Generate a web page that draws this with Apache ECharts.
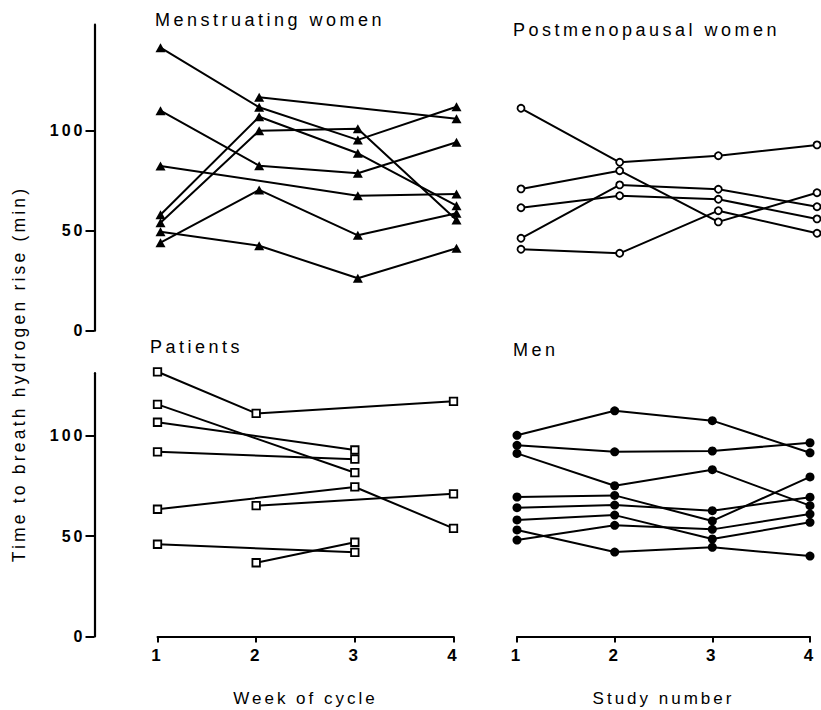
<!DOCTYPE html>
<html>
<head>
<meta charset="utf-8">
<script src="https://cdn.jsdelivr.net/npm/echarts@6/dist/echarts.min.js"></script>
<style>
  html, body { margin: 0; padding: 0; background: #fff; }
  #chart { width: 821px; height: 710px; }
  #chart svg text { letter-spacing: 3px; }
  #chart svg text[style*="18px"] { letter-spacing: 3.5px; }
  #chart svg text[style*="17.5px"] { letter-spacing: 3.2px; }
</style>
</head>
<body>
<div id="chart"></div>
<script>
// ---- data ----
const weeks = [1, 2, 3, 4];
const yTickValues = [0, 50, 100];

// Each row = one subject, values for weeks / studies 1..4 (null = not measured)
const menstruating = [
  [141.5, 111.7, 95.4, 112],
  [null, 116.7, null, 106],
  [58, 107, 88.7, 62.5],
  [54, 100, 101, 55.4],
  [110, 82.5, 78.7, 94.2],
  [82.4, null, 67.5, 68.4],
  [49.5, 42.5, 26.2, 41.2],
  [44, 70.4, 47.7, 58.7]
];
const postmenopausal = [
  [111.2, 84.2, 87.5, 92.9],
  [70.9, 80, 54.4, 69],
  [61.5, 67.5, 65.7, 55.9],
  [46.2, 72.9, 70.7, 62],
  [40.7, 38.7, 60, 48.7]
];
const patients = [
  [131.7, 111, null, 117],
  [115.5, null, 81.5, null],
  [106.6, null, 92.8, null],
  [91.9, null, 88.2, null],
  [63.3, null, 74.4, 53.8],
  [null, 65.1, null, 71],
  [45.9, null, 41.9, null],
  [null, 36.7, 46.9, null]
];
const men = [
  [100.1, 112.3, 107.4, 91.4],
  [95.1, 91.9, 92.3, 96.4],
  [91.1, 75, 83, 65.1],
  [69.4, 70.2, 57.5, 79.4],
  [64.1, 65.4, 62.6, 69.3],
  [58, 60.4, 48.5, 56.8],
  [53, 42, 44.4, 40],
  [48, 55.3, 53.3, 60.9]
];

const panelTitles = ['Menstruating women', 'Postmenopausal women', 'Patients', 'Men'];
const xNames = ['Week of cycle', 'Study number'];
const yTitle = 'Time to breath hydrogen rise (min)';

// ---- layout / style ----
const FONT = 'Liberation Sans';
const Y_AXIS_X = 94.5;
const grids = [
  { left: 160.5, top: 24.7, width: 296, height: 306 },
  { left: 521, top: 24.7, width: 296, height: 306 },
  { left: 157.5, top: 373.2, width: 296, height: 263.3 },
  { left: 517, top: 373.2, width: 293, height: 263.3 }
];
const yMax = [153, 153, 131, 131];

const symbolStyles = [
  { symbol: 'triangle', symbolSize: [10, 9], itemStyle: { color: '#000', borderWidth: 0 } },
  { symbol: 'circle', symbolSize: 7, itemStyle: { color: '#fff', borderColor: '#000', borderWidth: 1.8 } },
  { symbol: 'rect', symbolSize: 7.5, itemStyle: { color: '#fff', borderColor: '#000', borderWidth: 1.8 } },
  { symbol: 'circle', symbolSize: 9, itemStyle: { color: '#000', borderWidth: 0 } }
];

const panels = [menstruating, postmenopausal, patients, men];

const xAxes = grids.map((g, i) => {
  const bottom = i >= 2;
  return {
    gridIndex: i,
    type: 'value',
    min: 1, max: 4, interval: 1,
    show: bottom,
    name: bottom ? xNames[i - 2] : '',
    nameLocation: 'middle',
    nameGap: 53,
    nameTextStyle: { fontFamily: FONT, fontSize: 17, color: '#000' },
    axisLine: { show: true, lineStyle: { color: '#000', width: 2 } },
    axisTick: { show: true, length: 6, lineStyle: { color: '#000', width: 2 } },
    axisLabel: { show: true, margin: 10, fontFamily: FONT, fontSize: 17, fontWeight: 'bold', color: '#000' },
    splitLine: { show: false }
  };
});

const yAxes = grids.map((g, i) => {
  const left = (i % 2 === 0);
  return {
    gridIndex: i,
    type: 'value',
    min: 0, max: yMax[i],
    show: left,
    position: 'left',
    offset: g.left - Y_AXIS_X,
    axisLine: { show: true, lineStyle: { color: '#000', width: 2.2 } },
    axisTick: { show: true, length: 9, customValues: yTickValues, lineStyle: { color: '#000', width: 2 } },
    axisLabel: { show: true, margin: 9, customValues: yTickValues, fontFamily: FONT, fontSize: 16, fontWeight: 'bold', color: '#000' },
    splitLine: { show: false }
  };
});

const series = [];
panels.forEach((rows, p) => {
  rows.forEach((row) => {
    const pts = [];
    row.forEach((v, k) => { if (v !== null) pts.push([weeks[k], v]); });
    series.push(Object.assign({
      type: 'line',
      xAxisIndex: p,
      yAxisIndex: p,
      data: pts,
      clip: false,
      showAllSymbol: true,
      lineStyle: { color: '#000', width: 2 },
      emphasis: { disabled: true },
      silent: true
    }, symbolStyles[p]));
  });
});

const titlePos = [
  { left: 155, top: 11 },
  { left: 513, top: 21 },
  { left: 150, top: 338 },
  { left: 513, top: 341 }
];

const chart = echarts.init(document.getElementById('chart'), null, { renderer: 'svg' });
chart.setOption({
  animation: false,
  backgroundColor: '#fff',
  title: panelTitles.map((t, i) => ({
    text: t,
    left: titlePos[i].left,
    top: titlePos[i].top,
    padding: 0,
    textStyle: { fontFamily: FONT, fontSize: 18, fontWeight: 'normal', color: '#000' }
  })),
  grid: grids,
  xAxis: xAxes,
  yAxis: yAxes,
  series: series,
  graphic: [{
    type: 'text',
    x: 19,
    y: 374,
    rotation: Math.PI / 2,
    style: { text: yTitle, fontFamily: FONT, fontSize: 17.5, fill: '#000', align: 'center', verticalAlign: 'middle' }
  }]
});
</script>
</body>
</html>
